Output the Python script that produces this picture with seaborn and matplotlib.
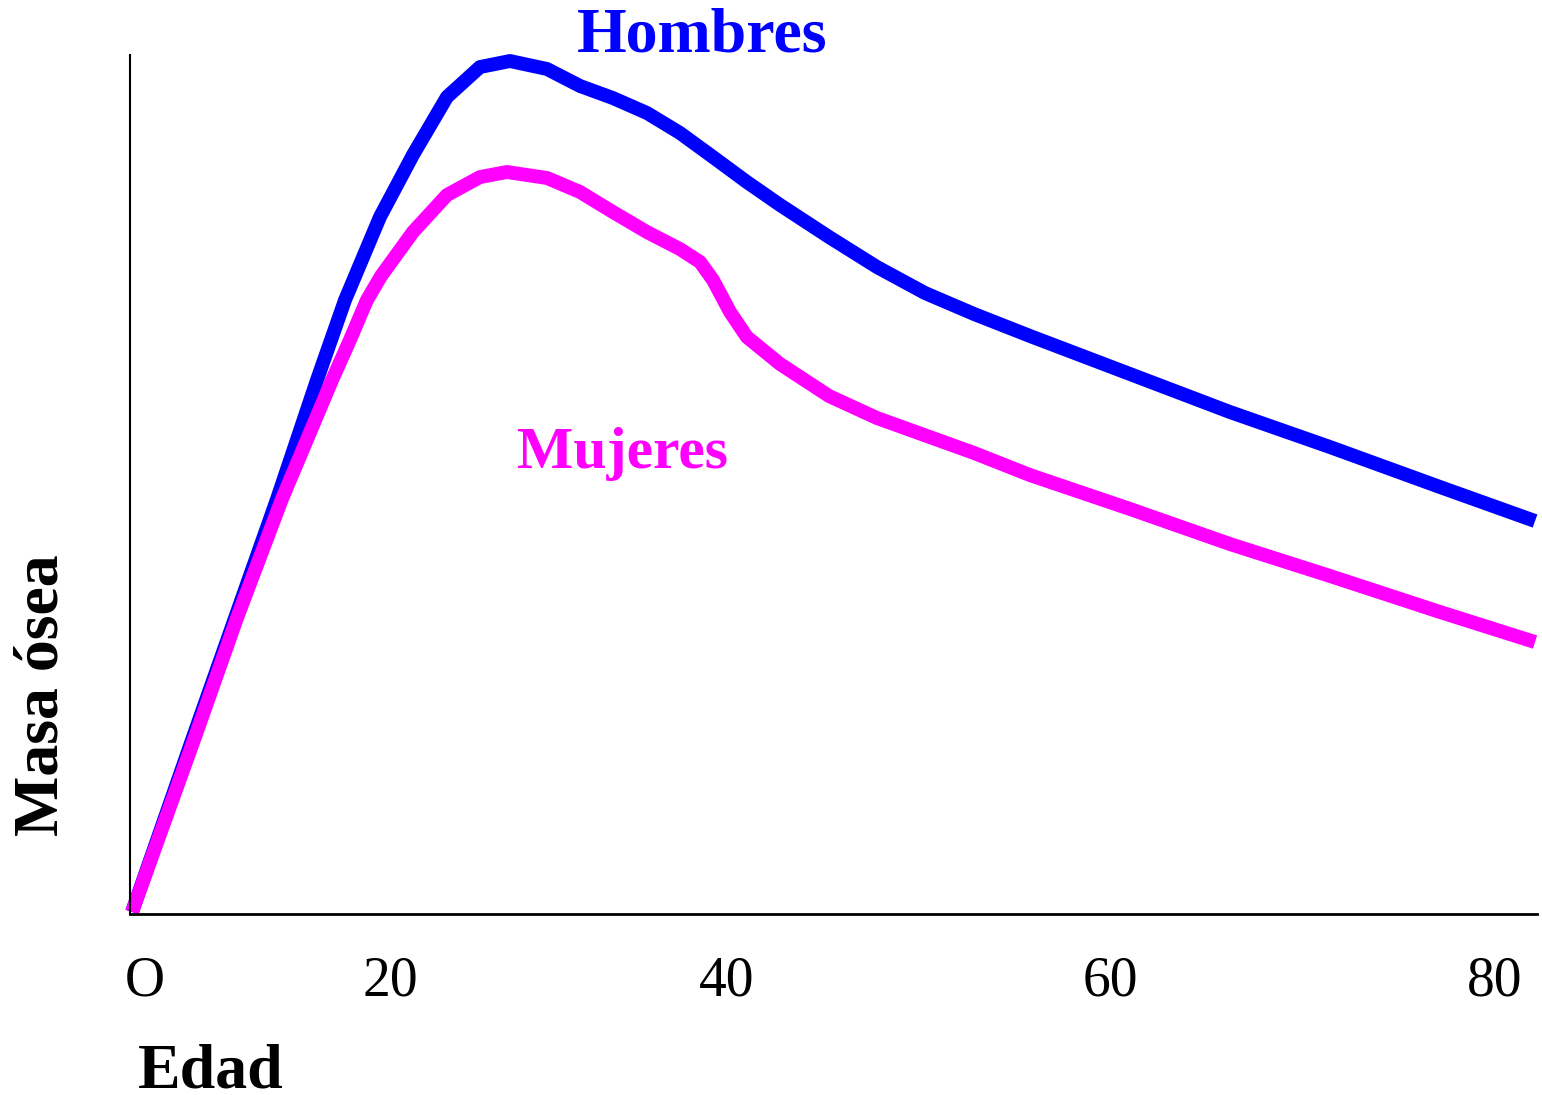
import numpy as np
import pandas as pd
import matplotlib
matplotlib.use("Agg")
import matplotlib.pyplot as plt
import seaborn as sns

# ---- data (age in years, bone mass in relative units 0-100) ----
hombres_edad = [-1.06, 3.92, 7.35, 10.78, 14.04, 16.33, 19.18, 21.36, 23.38, 25.34,
                27.12, 29.32, 31.28, 33.23, 35.25, 37.21, 39.17, 41.04, 42.77, 45.33,
                47.83, 50.34, 52.90, 55.82, 61.04, 66.23, 71.43, 77.14, 82.08]
hombres_masa = [0.23, 20.60, 34.46, 48.31, 62.16, 71.48, 81.14, 88.36, 95.11, 98.60,
                99.30, 98.37, 96.39, 94.99, 93.25, 90.92, 88.12, 85.21, 82.54, 78.81,
                75.32, 72.29, 69.85, 67.29, 62.86, 58.44, 54.36, 49.71, 45.75]

mujeres_edad = [-1.06, 4.08, 7.51, 11.18, 15.27, 16.73, 18.12, 19.27, 21.36, 23.38,
                25.34, 26.94, 29.32, 31.28, 33.23, 35.25, 37.21, 38.40, 39.17, 40.16,
                41.04, 42.77, 45.33, 47.83, 52.90, 55.82, 61.04, 66.23, 71.43, 77.14,
                82.08]
mujeres_masa = [0.23, 20.60, 34.46, 48.31, 62.16, 66.82, 71.48, 74.27, 79.39, 83.70,
                85.79, 86.38, 85.68, 84.05, 81.72, 79.39, 77.41, 75.90, 73.80, 70.08,
                67.17, 64.03, 60.30, 57.74, 53.67, 51.10, 47.15, 43.07, 39.35, 35.16,
                31.66]

tick_edades = [0, 20, 40, 60, 80]
tick_labels = ["O", "20", "40", "60", "80"]
# non-uniform drawn axis: relative positions of the age ticks
tick_pos = [145, 390, 727, 1110, 1495]

series = ["Hombres", "Mujeres"]
colores = ["#0000FF", "#FF00FF"]

df = pd.concat([
    pd.DataFrame({"Edad": hombres_edad, "Masa": hombres_masa, "Sexo": "Hombres"}),
    pd.DataFrame({"Edad": mujeres_edad, "Masa": mujeres_masa, "Sexo": "Mujeres"}),
], ignore_index=True)

sns.set_style("white")
plt.rcParams["font.family"] = ["Liberation Serif", "DejaVu Serif"]
plt.rcParams["text.color"] = "black"
plt.rcParams["xtick.color"] = "black"

fig = plt.figure(figsize=(15.42, 10.95), dpi=100)
ax = fig.add_axes([130 / 1542, 1 - 914 / 1095, (1537 - 130) / 1542, (914 - 55) / 1095])

ext_a = [-20] + tick_edades + [100]
ext_p = ([tick_pos[0] - (tick_pos[1] - tick_pos[0])] + tick_pos
         + [tick_pos[-1] + (tick_pos[-1] - tick_pos[-2])])


def fwd(a):
    return np.interp(a, ext_a, ext_p)


def inv(p):
    return np.interp(p, ext_p, ext_a)


ax.set_xscale("function", functions=(fwd, inv))

sns.lineplot(data=df, x="Edad", y="Masa", hue="Sexo", hue_order=series,
             palette=dict(zip(series, colores)), sort=False, estimator=None,
             linewidth=10, legend=False, ax=ax)
for ln in ax.lines:
    ln.set_solid_capstyle("butt")
    ln.set_solid_joinstyle("round")
    ln.set_clip_on(False)
    ln.set_antialiased(True)

ax.set_xlim(inv(130), inv(1537))
ax.set_ylim(0, 100)
ax.set_xticks(tick_edades)
ax.set_xticklabels(tick_labels, fontsize=40, color="black")
ax.set_yticks([])
ax.tick_params(axis="x", length=0, pad=30)
ax.set_xlabel("")
ax.set_ylabel("")
for s in ["top", "right"]:
    ax.spines[s].set_visible(False)
ax.spines["left"].set_linewidth(1.5)
ax.spines["bottom"].set_linewidth(2)
ax.spines["left"].set_color("black")
ax.spines["bottom"].set_color("black")

fig.text(702 / 1542, 1 - 52 / 1095, "Hombres", color=colores[0], fontsize=46,
         fontweight="bold", ha="center", va="baseline")
fig.text(623 / 1542, 1 - 468 / 1095, "Mujeres", color=colores[1], fontsize=43,
         fontweight="bold", ha="center", va="baseline")
fig.text(138 / 1542, 1 - 1087 / 1095, "Edad", color="black", fontsize=46,
         fontweight="bold", ha="left", va="baseline")
fig.text(43 / 1542, 1 - 695 / 1095, "Masa ósea", color="black", fontsize=46,
         fontweight="bold", ha="center", va="center", rotation=90)

fig.savefig("out.png", dpi=100)
